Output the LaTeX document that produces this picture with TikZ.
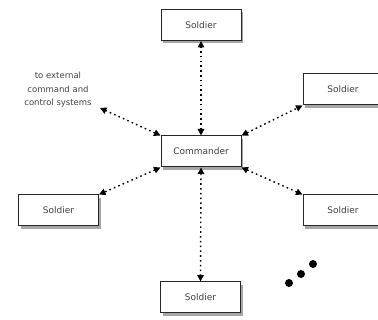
\documentclass[tikz,border=0pt]{standalone}
\usepackage{fontspec}
\setmainfont{DejaVu Sans}
\usepackage{tikz}
\usetikzlibrary{arrows.meta, shadows}

\begin{document}
\begin{tikzpicture}[x=1pt, y=1pt,
    unitbox/.style={draw=black!85, line width=1pt, fill=white, minimum width=80pt, minimum height=31pt,
      inner sep=0pt, font=\fontsize{9}{11}\selectfont, text=black!75,
      drop shadow={shadow xshift=2pt, shadow yshift=-3pt, opacity=0.35, fill=black}},
    link/.style={dash pattern=on 1.6pt off 3.2pt, line width=1.4pt, {Triangle[width=6.5pt,length=6.5pt]}-{Triangle[width=6.5pt,length=6.5pt]}}]
  \useasboundingbox (0,0) rectangle (378,320);

  % command post and its units
  \node[unitbox] (cmd) at (201,168.5) {Commander};
  \node[unitbox] (top) at (201,295) {Soldier};
  \node[unitbox] (rtop) at (343,230.5) {Soldier};
  \node[unitbox] (rbot) at (343,109.5) {Soldier};
  \node[unitbox] (left) at (58.5,109.5) {Soldier};
  \node[unitbox] (bot) at (200.5,22.5) {Soldier};

  % outside link
  \node[align=center, font=\fontsize{8.5}{13.5}\selectfont, text=black!75] (ext) at (58,230)
    {to external\\command and\\control systems};
  \coordinate (extend) at (100,212);

  \draw[link] (cmd.north) -- (top.south);
  \draw[link] (cmd.north east) -- (rtop.south west);
  \draw[link] (cmd.south east) -- (rbot.north west);
  \draw[link] (cmd.south west) -- (left.north east);
  \draw[link] (cmd.south) -- (bot.north);
  \draw[link] (cmd.north west) -- (extend);

  % more units
  \foreach \x/\y in {289/37, 301/46, 313/56}
    \fill (\x,\y) circle (4pt);
\end{tikzpicture}
\end{document}
